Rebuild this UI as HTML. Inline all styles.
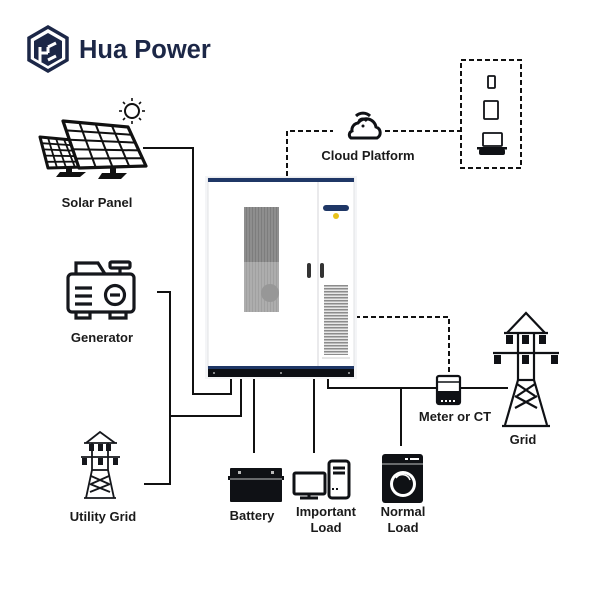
<!DOCTYPE html>
<html><head><meta charset="utf-8"><style>
html,body{margin:0;padding:0;background:#fff;}
svg{display:block;}
text{font-family:"Liberation Sans",sans-serif;font-weight:bold;fill:#1a1a1a;}
</style></head><body>
<svg width="600" height="600" viewBox="0 0 600 600" xmlns="http://www.w3.org/2000/svg">
<defs>
<pattern id="vent" width="4" height="3" patternUnits="userSpaceOnUse"><rect width="4" height="3" fill="#e8e8e8"/><rect width="4" height="1.5" fill="#8c8c8c"/></pattern>
<pattern id="mesh" width="3" height="3" patternUnits="userSpaceOnUse"><rect width="3" height="3" fill="#8e8e8e"/><rect width="1" height="3" fill="#7d7d7d"/></pattern>
<pattern id="mesh2" width="3" height="3" patternUnits="userSpaceOnUse"><rect width="3" height="3" fill="#adadad"/><rect width="1" height="3" fill="#a0a0a0"/></pattern>
</defs>

<!-- Logo -->
<g>
<polygon points="48,27 67,38 67,60 48,71 29,60 29,38" fill="#fff" stroke="#1c2747" stroke-width="3.5"/>
<polygon points="48,33 62,41 62,58 48,66 34,58 34,41" fill="#1c2747"/>
<path d="M40,47 L40,62 M40,53 L48,53 M48,47 L56,43 M48,47 L48,53 M48,60 L56,56" stroke="#fff" stroke-width="3" fill="none"/>
<text x="79" y="58" font-size="25.5" style="fill:#1c2747">Hua Power</text>
</g>

<!-- Connectors -->
<g stroke="#111" stroke-width="2" fill="none">
<polyline points="143,148 193,148 193,394 231,394 231,377"/>
<polyline points="157,292 170,292 170,484 144,484"/>
<polyline points="170,416 241,416 241,377"/>
<line x1="254" y1="377" x2="254" y2="453"/>
<line x1="314" y1="377" x2="314" y2="453"/>
<polyline points="328,377 328,388 436,388"/>
<line x1="401" y1="388" x2="401" y2="446"/>
<line x1="461" y1="388" x2="508" y2="388"/>
</g>
<g stroke="#111" stroke-width="2" fill="none" stroke-dasharray="5,3">
<polyline points="287,176 287,131 333,131"/>
<line x1="385" y1="131" x2="461" y2="131"/>
<rect x="461" y="60" width="60" height="108"/>
<polyline points="355,317 449,317 449,375"/>
</g>

<!-- Cabinet -->
<g>
<rect x="205" y="176" width="152" height="203" fill="#f4f5f7"/>
<rect x="208" y="178" width="146" height="190" fill="#fff" stroke="#e2e3e6" stroke-width="1"/>
<rect x="208" y="178" width="146" height="4" fill="#1f3766"/>
<line x1="318" y1="182" x2="318" y2="366" stroke="#d5d6d9" stroke-width="1"/>
<rect x="244" y="207" width="35" height="55" fill="url(#mesh)"/>
<rect x="244" y="262" width="35" height="50" fill="url(#mesh2)"/>
<circle cx="270" cy="293" r="9" fill="#979797"/>
<rect x="307" y="263" width="4" height="15" rx="2" fill="#333"/>
<rect x="320" y="263" width="4" height="15" rx="2" fill="#333"/>
<rect x="323" y="205" width="26" height="6" rx="3" fill="#1f3766"/>
<circle cx="336" cy="216" r="3" fill="#e8c21a"/>
<rect x="324" y="285" width="24" height="70" fill="url(#vent)"/>
<line x1="322" y1="358" x2="350" y2="358" stroke="#ccc" stroke-width="1"/>
<rect x="208" y="366" width="146" height="3" fill="#1f3766"/>
<rect x="208" y="369" width="146" height="8" fill="#0d0f14"/>
<circle cx="214" cy="373" r="0.9" fill="#ddd"/>
<circle cx="281" cy="373" r="0.9" fill="#ddd"/>
<circle cx="349" cy="373" r="0.9" fill="#ddd"/>
</g>

<!-- Solar panel -->
<g>
<circle cx="132" cy="111" r="7" fill="none" stroke="#111" stroke-width="2"/>
<g stroke="#111" stroke-width="1.6">
<line x1="132" y1="98" x2="132" y2="101"/><line x1="132" y1="121" x2="132" y2="124"/>
<line x1="119" y1="111" x2="122" y2="111"/><line x1="142" y1="111" x2="145" y2="111"/>
<line x1="123" y1="102" x2="125" y2="104"/><line x1="139" y1="118" x2="141" y2="120"/>
<line x1="141" y1="102" x2="139" y2="104"/><line x1="125" y1="118" x2="123" y2="120"/>
</g>
<!-- small back panel -->
<polygon points="60,172 86,172 80,177 56,177" fill="#111"/>
<rect x="66" y="166" width="6" height="7" fill="#111"/>
<polygon points="40,137 72,140 84,167 48,168" fill="#fff" stroke="#111" stroke-width="3" stroke-linejoin="round"/>
<g stroke="#111" stroke-width="1.8">
<line x1="41.6" y1="143.2" x2="74.4" y2="145.4"/><line x1="43.2" y1="149.4" x2="76.8" y2="150.8"/>
<line x1="44.8" y1="155.6" x2="79.2" y2="156.2"/><line x1="46.4" y1="161.8" x2="81.6" y2="161.6"/>
<line x1="48" y1="137.8" x2="57" y2="167.8"/><line x1="56" y1="138.5" x2="66" y2="167.5"/><line x1="64" y1="139.3" x2="75" y2="167.3"/>
</g>
<!-- big front panel -->
<rect x="110" y="166" width="6" height="8" fill="#111"/>
<polygon points="102,173 127,173 121,179 98,179" fill="#111"/>
<polygon points="63,121 128,127 146,166 79,168" fill="#fff" stroke="#111" stroke-width="3.2" stroke-linejoin="round"/>
<g stroke="#111" stroke-width="2">
<line x1="66.2" y1="130.4" x2="131.6" y2="134.8"/><line x1="69.4" y1="139.8" x2="135.2" y2="142.6"/>
<line x1="72.6" y1="149.2" x2="138.8" y2="150.4"/><line x1="75.8" y1="158.6" x2="142.4" y2="158.2"/>
<line x1="79.3" y1="122.5" x2="95.8" y2="167.5"/><line x1="95.5" y1="124" x2="112.5" y2="167"/><line x1="111.8" y1="125.5" x2="129.3" y2="166.5"/>
</g>
<text x="97" y="207" font-size="13" text-anchor="middle">Solar Panel</text>
</g>

<!-- Generator -->
<g fill="none" stroke="#15171c" stroke-width="3.2">
<rect x="68" y="274" width="66" height="38" rx="4"/>
<path d="M76,274 L76,263 L98,263 L105,274"/>
<rect x="110" y="262" width="20" height="6" rx="1.5"/>
<line x1="120" y1="268" x2="120" y2="274"/>
<path d="M76,312 L76,318 L90,318 L90,312 M110,312 L110,318 L126,318 L126,312"/>
<line x1="75" y1="288" x2="92" y2="288"/><line x1="75" y1="296" x2="92" y2="296"/><line x1="75" y1="304" x2="92" y2="304"/>
<circle cx="115" cy="295" r="9.5"/>
<line x1="110" y1="295" x2="120" y2="295"/>
</g>
<text x="102" y="342" font-size="13" text-anchor="middle">Generator</text>

<!-- Utility grid tower -->
<g fill="none" stroke="#15171c" stroke-width="1.8">
<polyline points="86,443 100,432 115,443"/>
<line x1="84" y1="443" x2="117" y2="443"/>
<line x1="81" y1="457" x2="120" y2="457"/>
<line x1="92" y1="443" x2="92" y2="470"/><line x1="108" y1="443" x2="108" y2="470"/>
<line x1="92" y1="470" x2="86" y2="498"/><line x1="108" y1="470" x2="114" y2="498"/>
<line x1="92" y1="470" x2="108" y2="470"/>
<line x1="91" y1="476" x2="109" y2="484"/><line x1="109" y1="476" x2="91" y2="484"/>
<line x1="90" y1="484" x2="110" y2="492"/><line x1="110" y1="484" x2="90" y2="492"/>
<line x1="84" y1="498" x2="116" y2="498"/>
</g>
<g fill="#15171c">
<rect x="89" y="444" width="5" height="7"/><rect x="98" y="444" width="5" height="7"/><rect x="106" y="444" width="5" height="7"/>
<rect x="82" y="458" width="5" height="7"/><rect x="98" y="458" width="5" height="7"/><rect x="113" y="458" width="5" height="7"/>
</g>
<text x="103" y="521" font-size="13" text-anchor="middle">Utility Grid</text>

<!-- Battery -->
<g fill="#0f1115">
<rect x="230" y="468" width="52" height="34" rx="1"/>
<rect x="228" y="476" width="56" height="4"/>
</g>
<line x1="230" y1="479" x2="282" y2="479" stroke="#fff" stroke-width="0.8"/>
<rect x="238" y="471" width="3" height="3" fill="#bbb"/><rect x="271" y="471" width="3" height="3" fill="#bbb"/>
<text x="252" y="520" font-size="13" text-anchor="middle">Battery</text>

<!-- Important load -->
<g fill="none" stroke="#0f1115" stroke-width="3">
<rect x="294" y="473" width="31" height="21" rx="1.5"/>
<line x1="309" y1="494" x2="309" y2="498"/>
<line x1="300" y1="498" x2="318" y2="498"/>
<rect x="329" y="461" width="20" height="37" rx="3"/>
<line x1="333" y1="468" x2="345" y2="468"/>
<line x1="333" y1="473" x2="345" y2="473"/>
</g>
<rect x="332" y="488" width="2" height="2" fill="#0f1115"/><rect x="336" y="488" width="2" height="2" fill="#0f1115"/>
<text x="326" y="516" font-size="13" text-anchor="middle">Important</text>
<text x="326" y="532" font-size="13" text-anchor="middle">Load</text>

<!-- Normal load -->
<rect x="382" y="454" width="41" height="49" rx="3" fill="#0f1115"/>
<rect x="405" y="458" width="3" height="2" fill="#fff"/><rect x="410" y="458" width="9" height="2" fill="#fff"/>
<line x1="382" y1="464" x2="423" y2="464" stroke="#fff" stroke-width="0.8"/>
<circle cx="403" cy="484" r="13" fill="#fff"/>
<circle cx="403" cy="484" r="10" fill="#0f1115"/>
<path d="M396,478 A8,8 0 0,1 410,480" stroke="#fff" stroke-width="1.5" fill="none"/>
<text x="403" y="516" font-size="13" text-anchor="middle">Normal</text>
<text x="403" y="532" font-size="13" text-anchor="middle">Load</text>

<!-- Meter -->
<rect x="437" y="376" width="23" height="28" rx="2" fill="#fff" stroke="#0f1115" stroke-width="2.2"/>
<line x1="437" y1="382" x2="460" y2="382" stroke="#0f1115" stroke-width="1.5"/>
<rect x="437" y="391" width="23" height="13" fill="#0f1115"/>
<g fill="#fff"><rect x="441" y="400" width="2" height="2"/><rect x="445" y="400" width="2" height="2"/><rect x="449" y="400" width="2" height="2"/><rect x="453" y="400" width="2" height="2"/></g>
<text x="455" y="421" font-size="13" text-anchor="middle">Meter or CT</text>

<!-- Grid tower -->
<g fill="none" stroke="#0f1115" stroke-width="2.2">
<polyline points="507,333 526,313 545,333"/>
<line x1="504" y1="333" x2="548" y2="333"/>
<line x1="493" y1="353" x2="559" y2="353"/>
<line x1="518" y1="333" x2="518" y2="380"/><line x1="534" y1="333" x2="534" y2="380"/>
<line x1="518" y1="380" x2="505" y2="425"/><line x1="534" y1="380" x2="547" y2="425"/>
<line x1="518" y1="380" x2="534" y2="380"/>
<line x1="517" y1="384" x2="535" y2="396"/><line x1="535" y1="384" x2="517" y2="396"/>
<line x1="515" y1="396" x2="537" y2="408"/><line x1="537" y1="396" x2="515" y2="408"/>
<line x1="502" y1="426" x2="550" y2="426"/>
</g>
<g fill="#0f1115">
<rect x="506" y="335" width="7" height="9"/><rect x="522" y="335" width="7" height="9"/><rect x="539" y="335" width="7" height="9"/>
<rect x="494" y="355" width="7" height="9"/><rect x="522" y="355" width="7" height="9"/><rect x="551" y="355" width="7" height="9"/>
</g>
<text x="523" y="444" font-size="13" text-anchor="middle">Grid</text>

<!-- Cloud -->
<g fill="none" stroke="#0f1115" stroke-width="3">
<path d="M351,138 L377,138 A6,6 0 0,0 376,127 A10,10 0 0,0 358,123 A7,7 0 0,0 352,131 A4,4 0 0,0 351,138 Z"/>
<path d="M356,116 A10,10 0 0,1 370,116"/>
<path d="M359,121 A5,5 0 0,1 367,121"/>
</g>
<circle cx="363" cy="126" r="1.5" fill="#0f1115"/>
<text x="368" y="160" font-size="13" text-anchor="middle">Cloud Platform</text>

<!-- Devices -->
<g fill="none" stroke="#0f1115" stroke-width="1.8">
<rect x="488" y="76" width="7" height="12" rx="1"/>
<rect x="484" y="101" width="14" height="18" rx="1"/>
<rect x="483" y="133" width="19" height="13" rx="1"/>
</g>
<rect x="477" y="147" width="30" height="2.5" fill="#0f1115"/>
<rect x="479" y="149" width="26" height="6" rx="2" fill="#0f1115"/>
</svg>
</body></html>
